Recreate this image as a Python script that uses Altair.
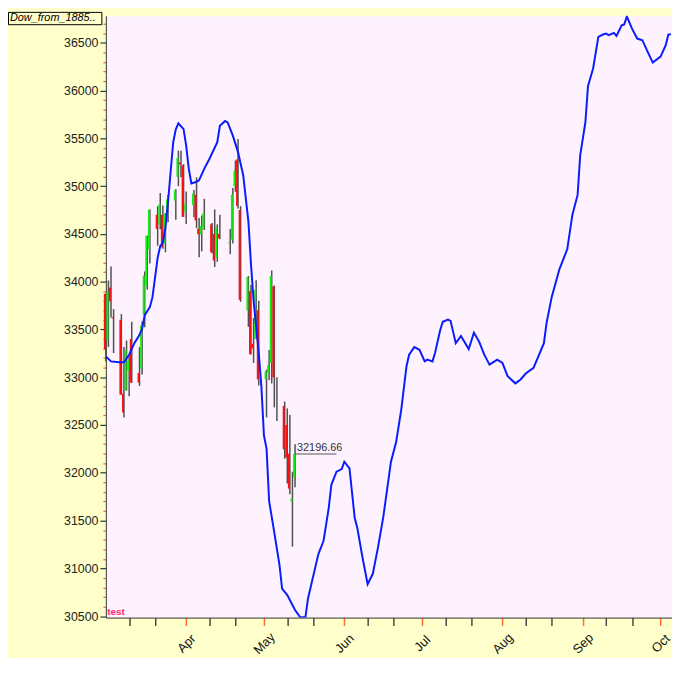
import altair as alt
import pandas as pd
import numpy as np

# ---- daily bars (OHLC) ----
dates = ["2022-03-01","2022-03-02","2022-03-03","2022-03-04","2022-03-07","2022-03-08","2022-03-09","2022-03-10","2022-03-11",
         "2022-03-14","2022-03-15","2022-03-16","2022-03-17","2022-03-18","2022-03-21","2022-03-22","2022-03-23","2022-03-24",
         "2022-03-25","2022-03-28","2022-03-29","2022-03-30","2022-03-31","2022-04-01","2022-04-04","2022-04-05","2022-04-06",
         "2022-04-07","2022-04-08","2022-04-11","2022-04-12","2022-04-13","2022-04-14","2022-04-18","2022-04-19","2022-04-20",
         "2022-04-21","2022-04-22","2022-04-25","2022-04-26","2022-04-27","2022-04-28","2022-04-29","2022-05-02","2022-05-03",
         "2022-05-04","2022-05-05","2022-05-06","2022-05-09","2022-05-10","2022-05-11","2022-05-12","2022-05-13"]
opens = [33873,33386,33937,33628,33600,32827,32860,33072,33400,33045,33089,33652,33958,34338,34700,34600,34700,34400,
         34708,34848,35097,35247,35217,34732,34803,34910,34555,34493,34550,34600,34500,34250,34500,34400,34440,35000,
         35280,34750,33700,33900,33350,33400,33700,32980,33050,33150,33950,32900,32700,32500,32200,31700,31950]
highs = [33873,34012,34160,33713,33661,33317,33384,33216,33580,33315,33583,34107,34482,34756,34790,34929,34797,34717,
         34907,34966,35372,35369,35230,34943,34960,35092,34665,34692,34867,34614,34757,34600,34700,34550,34981,35268,
         35492,34790,34060,33965,33619,34015,33800,33080,33284,34117,33960,33000,32746,32673,32604,32011,32300]
lows = [33166,33317,33626,33253,32818,32578,32860,32800,32939,32909,33028,33523,33917,34191,34376,34549,34344,34308,
        34621,34649,35000,35092,34678,34604,34675,34560,34256,34317,34540,34295,34154,34208,34445,34286,34399,34941,
        34765,33790,33527,33239,33150,33400,32913,32580,32970,32936,32685,32542,32148,31888,31775,31228,31850]
closes = [33294,33891,33795,33615,32818,32632,33286,33174,32944,32945,33544,34063,34481,34755,34553,34808,34359,34708,
          34862,34955,35294,35228,34678,34818,34922,34641,34497,34584,34721,34308,34221,34565,34452,34412,34911,35161,
          34793,33811,34049,33240,33302,33916,32977,33061,33129,34061,32998,32899,32246,32161,31834,31730,32196.66]

# ---- projection line ----
line_dates = [
    "2022-03-01","2022-03-03","2022-03-06","2022-03-08","2022-03-10","2022-03-12","2022-03-14","2022-03-15","2022-03-16",
    "2022-03-18","2022-03-19","2022-03-20","2022-03-21","2022-03-22","2022-03-23","2022-03-24","2022-03-25","2022-03-26",
    "2022-03-27","2022-03-28","2022-03-29","2022-03-31",
    "2022-04-01","2022-04-02","2022-04-03","2022-04-05","2022-04-06","2022-04-08","2022-04-10","2022-04-13","2022-04-14",
    "2022-04-16","2022-04-17","2022-04-19","2022-04-21","2022-04-23","2022-04-25","2022-04-26","2022-04-27","2022-04-29",
    "2022-04-30",
    "2022-05-01","2022-05-02","2022-05-03","2022-05-05","2022-05-07","2022-05-08","2022-05-10","2022-05-12","2022-05-13",
    "2022-05-15","2022-05-17","2022-05-18","2022-05-22","2022-05-24","2022-05-26","2022-05-27","2022-05-29","2022-05-31",
    "2022-06-01","2022-06-03","2022-06-05","2022-06-06","2022-06-08","2022-06-10","2022-06-12","2022-06-14","2022-06-16",
    "2022-06-19","2022-06-21","2022-06-23","2022-06-25","2022-06-26","2022-06-28","2022-06-30",
    "2022-07-02","2022-07-03","2022-07-05","2022-07-06","2022-07-08","2022-07-09","2022-07-11","2022-07-12","2022-07-14",
    "2022-07-16","2022-07-19","2022-07-21","2022-07-23","2022-07-25","2022-07-27","2022-07-30",
    "2022-08-01","2022-08-03","2022-08-06","2022-08-08","2022-08-10","2022-08-13","2022-08-17","2022-08-18","2022-08-20",
    "2022-08-23","2022-08-26","2022-08-28","2022-08-30","2022-08-31",
    "2022-09-02","2022-09-03","2022-09-05","2022-09-07","2022-09-09","2022-09-10","2022-09-11","2022-09-13","2022-09-14",
    "2022-09-16","2022-09-17","2022-09-18","2022-09-20","2022-09-22","2022-09-24","2022-09-26","2022-09-28",
    "2022-10-01","2022-10-03","2022-10-04","2022-10-05"]
line_values = [
    33218,33166,33156,33156,33236,33357,33443,33508,33649,33735,33838,34045,34252,34373,34407,34562,34838,35149,35459,35594,35658,35596,
    35424,35182,35028,35045,35063,35183,35286,35459,35631,35681,35666,35528,35356,35114,34632,34184,33804,33253,32908,
    32391,32254,31703,31374,31033,30788,30720,30616,30564,30488,30488,30685,31150,31289,31633,31874,32012,32039,
    32116,32047,31530,31426,31116,30834,30943,31219,31530,32116,32323,32667,33115,33236,33315,33287,
    33166,33184,33166,33253,33494,33580,33603,33590,33357,33432,33295,33466,33373,33236,33132,33184,
    33150,33011,32936,32977,33039,33098,33357,33563,33838,34132,34339,34701,34908,35321,
    35666,36045,36234,36562,36589,36596,36579,36603,36572,36682,36692,36775,36648,36544,36527,36407,36293,
    36355,36475,36586,36589]

last_date = "2022-05-13"
last_close = 32196.66
label_end = "2022-05-29"
y_ticks = list(range(30500, 36800, 100))
tick_days = [(m, d) for m in range(3, 11) for d in (1, 10, 20)
             if not (m == 10 and d > 1) and not (m == 3 and d == 1)]

ohlc = pd.DataFrame({"date": dates, "open": opens, "high": highs, "low": lows, "close": closes})
ohlc["dir"] = np.where(ohlc["close"] >= ohlc["open"], "up", "down")
line_df = pd.DataFrame({"date": line_dates, "value": line_values})
lab_df = pd.DataFrame({"date": [last_date], "end": [label_end], "value": [last_close], "txt": ["32196.66"]})
title_df = pd.DataFrame({"t": ["Dow_from_1885.."]})

x_scale = alt.Scale(type="utc",
                    domain=[alt.DateTime(year=2022, month=3, date=1, utc=True),
                            alt.DateTime(year=2022, month=10, date=5, hours=10, utc=True)])
y_scale = alt.Scale(domain=[30485, 36782], zero=False, nice=False)

x_axis = alt.Axis(
    values=[alt.DateTime(year=2022, month=m, date=d, utc=True) for m, d in tick_days],
    tickCount=200,
    labelExpr="utcdate(datum.value) == 1 ? utcFormat(datum.value, '%b') : ''",
    tickColor={"condition": {"test": "utcdate(datum.value) == 1", "value": "#ff6a30"}, "value": "#4a4a4a"},
    tickSize=8, tickWidth=1.5, labelAngle=315, labelAlign="center", labelBaseline="middle",
    labelPadding=18, labelFont="Liberation Sans", labelFontSize=13, labelColor="#111111",
    labelOverlap=False, labelFlush=False, labelBound=False,
    domainColor="#333333", domainWidth=1, grid=False, title=None)

y_axis = alt.Axis(
    values=y_ticks,
    tickCount=500,
    labelExpr="datum.value % 500 == 0 ? format(datum.value, 'd') : ''",
    tickColor={"condition": {"test": "datum.value % 500 == 0", "value": "#333333"}, "value": "#e0702a"},
    tickSize={"condition": {"test": "datum.value % 500 == 0", "value": 6}, "value": 3},
    tickWidth=1.2, labelPadding=2, labelFont="Liberation Sans Narrow, Liberation Sans, Arial",
    labelFontSize=12.5, labelColor="#222222", labelOverlap=False, labelBound=False, labelFlush=False,
    domainColor="#333333", domainWidth=1, grid=False, title=None)

wicks = alt.Chart(ohlc).mark_rule(color="#505050", strokeWidth=1.5).encode(
    x=alt.X("date:T", scale=x_scale, axis=x_axis),
    y=alt.Y("low:Q", scale=y_scale, axis=y_axis),
    y2="high:Q")

bodies = alt.Chart(ohlc).mark_rule(strokeWidth=2, xOffset=-1).encode(
    x="date:T", y="open:Q", y2="close:Q",
    color=alt.Color("dir:N", scale=alt.Scale(domain=["up", "down"], range=["#11ee11", "#ff1010"]), legend=None))

line = alt.Chart(line_df).mark_line(color="#0a1cff", strokeWidth=2, clip=True).encode(
    x="date:T", y="value:Q")

lab_rule = alt.Chart(lab_df).mark_rule(color="#555555", strokeWidth=1).encode(
    x="date:T", x2="end:T", y="value:Q")
lab_text = alt.Chart(lab_df).mark_text(align="left", baseline="bottom", dx=2, dy=-1,
                                       font="Liberation Sans Narrow, Liberation Sans", fontSize=11,
                                       color="#333333").encode(x="date:T", y="value:Q", text="txt:N")

title_box = alt.Chart(title_df).mark_rect(fill="#ffffcc", stroke="#000000", strokeWidth=1).encode(
    x=alt.value(-98.5), x2=alt.value(-4), y=alt.value(-3.5), y2=alt.value(9))
title_text = alt.Chart(title_df).mark_text(align="left", baseline="middle", font="Liberation Sans",
                                           fontSize=11, fontStyle="italic", color="#000000").encode(
    x=alt.value(-97), y=alt.value(2.5), text="t:N")

test_df = pd.DataFrame({"t": ["test"]})
test_text = alt.Chart(test_df).mark_text(align="left", baseline="alphabetic", font="Liberation Sans",
                                         fontSize=10, fontWeight="bold", color="#ff2a6a").encode(
    x=alt.value(1.5), y=alt.value(606), text="t:N")

chart = alt.layer(wicks, bodies, line, lab_rule, lab_text, title_box, title_text, test_text).properties(
    width=573, height=609, background="#ffffcc",
    padding={"left": 99, "top": 4, "right": 0, "bottom": 37},
    autosize=alt.AutoSizeParams(type="none"),
).configure_view(fill="#fdf2fd", stroke="transparent")

chart.save("out.html", embed_options={"renderer": "svg", "actions": False})
